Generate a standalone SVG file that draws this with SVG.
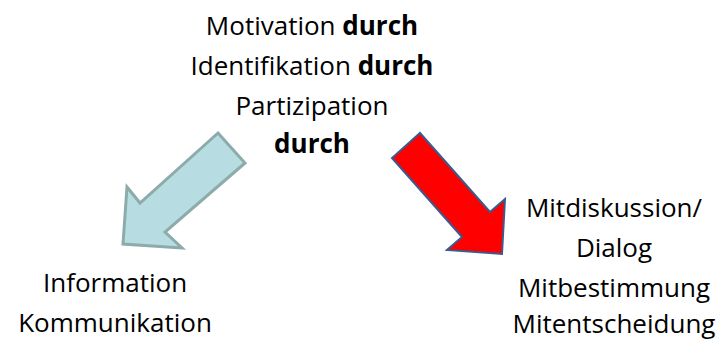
<svg xmlns="http://www.w3.org/2000/svg" width="725" height="340" viewBox="0 0 725 340">
<style>
text{font-family:"Open Sans","Liberation Sans",Arial,sans-serif;font-size:26px;fill:#000;text-anchor:middle}
.b{font-weight:bold}
</style>
<rect width="725" height="340" fill="#fff"/>
<g id="top">
<text x="312" y="35">Motivation <tspan class="b">durch</tspan></text>
<text x="312" y="75">Identifikation <tspan class="b">durch</tspan></text>
<text x="312" y="115">Partizipation</text>
<text x="312" y="153" class="b">durch</text>
</g>
<g id="connectors">
<polygon points="218,133 245,163 165,232 182,248 123,244 127,187 140,203" fill="#b7dde3" stroke="#8eabab" stroke-width="3" stroke-linejoin="miter"/>
<polygon points="420,133 490,212 505,199 502,254 447,250 462,237 392,158" fill="#ff0000" stroke="#3b5a8e" stroke-width="2"/>
</g>
<g id="left">
<text x="115" y="292">Information</text>
<text x="115" y="332">Kommunikation</text>
</g>
<g id="right">
<text x="614" y="217">Mitdiskussion/</text>
<text x="614" y="257">Dialog</text>
<text x="614" y="297">Mitbestimmung</text>
<text x="614" y="333">Mitentscheidung</text>
</g>
</svg>
